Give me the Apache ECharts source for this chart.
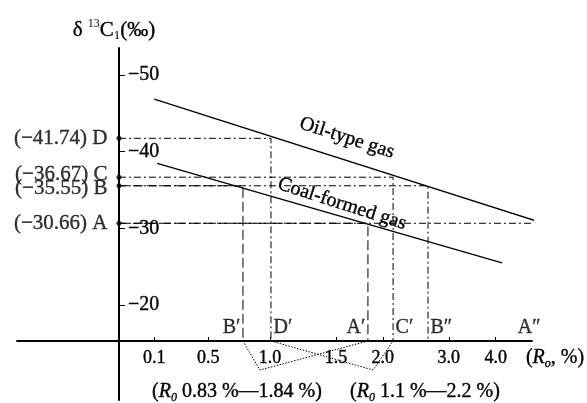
<!DOCTYPE html>
<html>
<head>
<meta charset="utf-8">
<script src="https://cdn.jsdelivr.net/npm/echarts@6/dist/echarts.min.js"></script>
<style>
html, body { margin: 0; padding: 0; background: #fff; }
#chart { width: 587px; height: 403px; }
</style>
</head>
<body>
<div id="chart"></div>
<script>
// x values are positions on the drawn Ro scale: log10(Ro) from 1.0 upward,
// the 0.1 and 0.5 ticks sit on a squeezed part on the left
const xTickLabels = ['0.1', '0.5', '1.0', '1.5', '2.0', '3.0', '4.0'];
const xTickPos = [-0.309, -0.165, 0, 0.176, 0.301, 0.477, 0.602];
const yTicks = [-50, -40, -30, -20];

// trend lines [x, δ13C1]
const oilLine = [[-0.309, -46.86], [0.707, -31.0]];
const coalLine = [[-0.301, -38.47], [0.619, -25.5]];

// marked values on the δ13C1 axis
const refNames = ['A', 'B', 'C', 'D'];
const refValues = [-30.66, -35.55, -36.67, -41.74];
// Ro where each guide drops to the x axis (as drawn)
const oilFootRo = [5.35, 2.64, 2.13, 1.006];
const oilFootNames = ['A″', 'B″', 'C′', 'D′'];
const coalFootRo = [1.825, 0.847, null, null];
const coalFootNames = ['A′', 'B′', null, null];

// bottom corners of the dotted brackets below the axis
const bracketCorners = [[-0.027, -11.52], [0.275, -11.52]];

// axis frame
const xMin = -0.675, xMax = 0.699;
const yMin = -53.52, yMax = -7.61;
const yAxisAtX = -0.403;   // where the δ axis crosses the Ro axis
const xAxisAt = -15.31;    // δ value of the Ro axis line

const gridLeft = 17, gridTop = 48, gridWidth = 515, gridHeight = 352;
const yOffset = -(yAxisAtX - xMin) / (xMax - xMin) * gridWidth;
const xOffset = -(yMax - xAxisAt) / (yMax - yMin) * gridHeight;

const ink = '#000';
const serif = '"Liberation Serif", "Times New Roman", serif';
const dashDot = [7, 3, 2, 3];
const longDash = [10, 4];
// slight stroke so the thin serif text reads as dark as the scan
const bold = { textBorderColor: ink, textBorderWidth: 0.35 };
const boldRaw = { stroke: ink, lineWidth: 0.35 };

function minus(v, d) {
    return '−' + Math.abs(v).toFixed(d);
}

const myChart = echarts.init(document.getElementById('chart'));

const series = [];

function lineSeries(data, width, type) {
    return {
        type: 'line',
        data: data,
        symbol: 'none',
        clip: false,
        silent: true,
        lineStyle: { color: ink, width: width, type: type }
    };
}

series.push(lineSeries(oilLine, 1.4, 'solid'));
series.push(lineSeries(coalLine, 1.4, 'solid'));

const footLabels = [];
refValues.forEach(function (v, i) {
    const xo = Math.log10(oilFootRo[i]);
    series.push(lineSeries([[yAxisAtX, v], [xo, v], [xo, xAxisAt]], 1, dashDot));
    footLabels.push({ name: oilFootNames[i], value: [xo, xAxisAt], label: { position: i === 0 ? 'left' : 'right' } });
    if (coalFootRo[i]) {
        const xc = Math.log10(coalFootRo[i]);
        series.push(lineSeries([[yAxisAtX, v], [xc, v], [xc, xAxisAt]], 1, longDash));
        footLabels.push({ name: coalFootNames[i], value: [xc, xAxisAt], label: { position: 'left' } });
    }
});

// dotted brackets: B′ -> A′ and D′ -> C′
const footX = function (ro) { return [Math.log10(ro), xAxisAt]; };
series.push(lineSeries([footX(coalFootRo[1]), bracketCorners[0], footX(coalFootRo[0])], 1, [1.5, 1.5]));
series.push(lineSeries([footX(oilFootRo[3]), bracketCorners[1], footX(oilFootRo[2])], 1, [1.5, 1.5]));

// B and C sit close together, so their labels are nudged apart as in the figure
const labelNudge = { B: [0, 3], C: [0, -3] };

// dots on the δ axis with their values
series.push({
    type: 'scatter',
    clip: false,
    silent: true,
    symbolSize: 5,
    itemStyle: { color: ink },
    data: refValues.map(function (v, i) {
        return {
            name: '(' + minus(v, 2) + ') ' + refNames[i],
            value: [yAxisAtX, v],
            label: { offset: labelNudge[refNames[i]] || [0, 0] }
        };
    }),
    label: Object.assign({
        show: true,
        position: 'left',
        distance: 9,
        formatter: '{b}',
        color: ink,
        fontFamily: serif,
        fontSize: 21
    }, bold)
});

// A′ B′ ... labels above the axis
series.push({
    type: 'scatter',
    clip: false,
    silent: true,
    symbolSize: 1,
    itemStyle: { color: 'rgba(0,0,0,0)' },
    data: footLabels,
    label: Object.assign({
        show: true,
        distance: 2,
        offset: [0, -13],
        formatter: '{b}',
        color: ink,
        fontFamily: serif,
        fontSize: 20
    }, bold)
});

function subRich(size) {
    return {
        i: Object.assign({ fontFamily: serif, fontSize: size, fontStyle: 'italic', fill: ink, lineHeight: 24 }, boldRaw),
        s: { fontFamily: serif, fontSize: 12, fontStyle: 'italic', fill: ink, verticalAlign: 'bottom', lineHeight: 24 }
    };
}

function textEl(x, y, text, size, extra) {
    return Object.assign({
        type: 'text',
        x: x,
        y: y,
        silent: true,
        style: Object.assign({
            text: text,
            fill: ink,
            fontFamily: serif,
            fontSize: size,
            align: 'center',
            verticalAlign: 'middle',
            rich: subRich(size)
        }, boldRaw)
    }, extra || {});
}

const option = {
    animation: false,
    backgroundColor: '#fff',
    grid: {
        left: gridLeft,
        top: gridTop,
        width: gridWidth,
        height: gridHeight,
        outerBoundsMode: 'none'
    },
    xAxis: {
        type: 'value',
        min: xMin,
        max: xMax,
        offset: xOffset,
        axisLine: { onZero: false, lineStyle: { color: ink, width: 1.8 } },
        axisTick: { inside: true, length: 4, customValues: xTickPos, lineStyle: { color: ink, width: 1 } },
        axisLabel: Object.assign({
            customValues: xTickPos,
            margin: 8,
            color: ink,
            fontFamily: serif,
            fontSize: 18,
            formatter: function (v) {
                const k = xTickPos.indexOf(v);
                return k >= 0 ? xTickLabels[k] : '';
            }
        }, bold),
        splitLine: { show: false }
    },
    yAxis: {
        type: 'value',
        inverse: true,
        min: yMin,
        max: yMax,
        offset: yOffset,
        axisLine: { onZero: false, lineStyle: { color: ink, width: 2 } },
        axisTick: { inside: true, length: 6, customValues: yTicks, lineStyle: { color: ink, width: 1 } },
        axisLabel: Object.assign({
            inside: true,
            customValues: yTicks,
            margin: 9,
            color: ink,
            fontFamily: serif,
            fontSize: 20,
            formatter: function (v) { return minus(v, 0); }
        }, bold),
        splitLine: { show: false }
    },
    graphic: [
        {
            type: 'text',
            x: 114,
            y: 30,
            silent: true,
            style: {
                text: '{d|δ }{sup|13}{d|C}{sub|1}{d|(‰)}',
                fill: ink,
                align: 'center',
                verticalAlign: 'middle',
                rich: {
                    d: Object.assign({ fontFamily: serif, fontSize: 21, fill: ink, lineHeight: 24 }, boldRaw),
                    sup: { fontFamily: serif, fontSize: 12, fill: ink, verticalAlign: 'top', lineHeight: 24 },
                    sub: { fontFamily: serif, fontSize: 13, fill: ink, verticalAlign: 'bottom', lineHeight: 24 }
                }
            }
        },
        textEl(347, 138, 'Oil-type gas', 20, { rotation: -0.31 }),
        textEl(342, 204, 'Coal-formed gas', 20, { rotation: -0.31 }),
        textEl(555, 358, '({i|R}{s|o}, %)', 20),
        textEl(237, 392, '({i|R}{s|0} 0.83 %—1.84 %)', 20),
        textEl(425, 392, '({i|R}{s|0} 1.1 %—2.2 %)', 20)
    ],
    series: series
};

myChart.setOption(option);
</script>
</body>
</html>
